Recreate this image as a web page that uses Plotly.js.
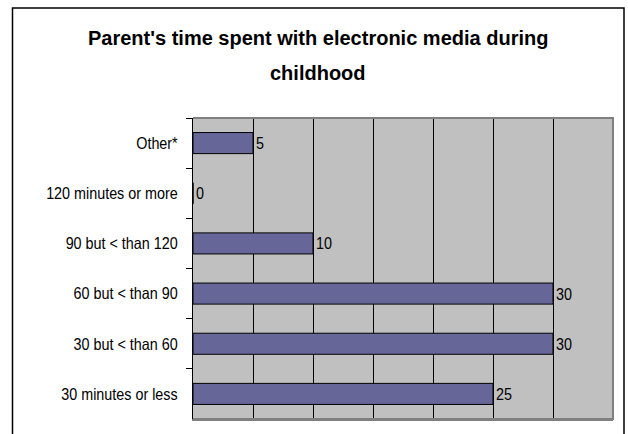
<!DOCTYPE html>
<html>
<head>
<meta charset="utf-8">
<script src="https://cdn.plot.ly/plotly-3.0.1.min.js"></script>
<style>
  html, body { margin: 0; padding: 0; background: #ffffff; }
  #chart { width: 628px; height: 434px; }
</style>
</head>
<body>
<div id="chart"></div>
<script>
// Data (top-to-bottom order as shown)
const categories = [
  "Other*",
  "120 minutes or more",
  "90 but < than 120",
  "60 but < than 90",
  "30 but < than 60",
  "30 minutes or less"
];
const values = [5, 0, 10, 30, 30, 25];
const titleLines = ["Parent's time spent with electronic media during", "childhood"];

const FONT = "'Liberation Sans', Arial, sans-serif";
const LABEL_SIZE = 16.5;
const NARROW = 0.87; // horizontal condensing of axis / value labels (Excel-style narrow text)

// Plot area geometry (px) used to convert decoration positions to paper coords
const W = 628, H = 434;
const L = 193, R = 613, T = 118, B = 419;
const px2x = p => (p - L) / (R - L);
const py2y = p => (B - p) / (B - T);

const trace = {
  type: 'bar',
  orientation: 'h',
  x: values,
  y: categories,
  text: values.map(String),
  textposition: 'outside',
  cliponaxis: false,
  textfont: { family: FONT, size: LABEL_SIZE, color: '#000000' },
  marker: { color: '#666699', line: { color: '#000000', width: 1 } },
  hoverinfo: 'none'
};

const layout = {
  width: W,
  height: H,
  margin: { l: L, r: W - R, t: T, b: H - B, pad: 0 },
  paper_bgcolor: '#ffffff',
  plot_bgcolor: '#C0C0C0',
  showlegend: false,
  bargap: 0.58,
  font: { family: FONT, size: LABEL_SIZE, color: '#000000' },
  xaxis: {
    range: [0, 35],
    dtick: 5,
    tick0: 0,
    showgrid: true,
    gridcolor: '#000000',
    gridwidth: 1,
    zeroline: false,
    showticklabels: false,
    ticks: '',
    showline: true,
    linecolor: '#808080',
    linewidth: 2,
    fixedrange: true
  },
  yaxis: {
    type: 'category',
    autorange: 'reversed',
    tickson: 'boundaries',
    ticks: 'outside',
    ticklen: 6,
    tickcolor: '#000000',
    tickwidth: 1,
    showline: true,
    linecolor: '#000000',
    linewidth: 1,
    showgrid: false,
    zeroline: false,
    ticklabelstandoff: 11,
    tickfont: { family: FONT, size: LABEL_SIZE, color: '#000000' },
    fixedrange: true
  },
  annotations: [
    {
      xref: 'paper', yref: 'paper',
      x: px2x(318), y: py2y(38),
      xanchor: 'center', yanchor: 'middle',
      showarrow: false,
      text: titleLines[0],
      font: { family: FONT, size: 20, color: '#000000', weight: 700 }
    },
    {
      xref: 'paper', yref: 'paper',
      x: px2x(318), y: py2y(73),
      xanchor: 'center', yanchor: 'middle',
      showarrow: false,
      text: titleLines[1],
      font: { family: FONT, size: 20, color: '#000000', weight: 700 }
    }
  ],
  shapes: [
    // plot area border (top, right, bottom) in gray
    {
      type: 'path', xref: 'paper', yref: 'paper',
      path: 'M 0 1 L 1 1 L 1 0 L 0 0',
      line: { color: '#808080', width: 2 },
      layer: 'above'
    },
    // outer chart frame (open at bottom, cropped)
    {
      type: 'path', xref: 'paper', yref: 'paper',
      path: 'M ' + px2x(12.5) + ' ' + py2y(445) +
            ' L ' + px2x(12.5) + ' ' + py2y(8) +
            ' L ' + px2x(624) + ' ' + py2y(8) +
            ' L ' + px2x(624) + ' ' + py2y(445),
      line: { color: '#000000', width: 1.5 },
      layer: 'above'
    }
  ]
};

function condense(selector, anchorMode) {
  document.querySelectorAll(selector).forEach(function (t) {
    var x = parseFloat(t.getAttribute('x')) || 0;
    if (anchorMode === 'left') {
      // keep the left edge fixed for centred text
      try {
        var bb = t.getBBox();
        x = bb.x;
      } catch (e) {}
    }
    var tr = t.getAttribute('transform') || '';
    t.setAttribute('transform', tr + ' translate(' + x + ',0) scale(' + NARROW + ',1) translate(' + (-x) + ',0)');
  });
}

Plotly.newPlot('chart', [trace], layout, { displayModeBar: false, staticPlot: true }).then(function () {
  condense('#chart .ytick text', 'anchor');
  condense('#chart .bartext', 'left');
});
</script>
</body>
</html>
